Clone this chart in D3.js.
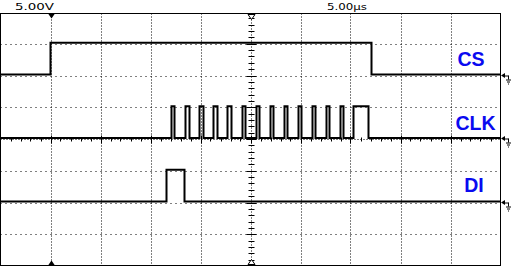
<!DOCTYPE html>
<html>
<head>
<meta charset="utf-8">
<script src="https://cdn.jsdelivr.net/npm/d3@7"></script>
<style>
  body { margin: 0; background: #fff; }
  svg { display: block; }
  .grid { stroke: #000; stroke-width: 1; }
  .trace { fill: none; stroke: #000; stroke-width: 2; }
  .label { font-family: "Liberation Sans", Arial, sans-serif; font-weight: bold; font-size: 19.5px; fill: #0a0af0; }
  .scale { font-family: "DejaVu Sans", sans-serif; font-size: 9px; fill: #000; }
</style>
</head>
<body>
<script>
// scope settings
var voltsPerDiv = 5, usPerDiv = 5
var scaleText = ["5.00V", "5.00\u00b5s"]

// channel names and ground offsets (divisions from centre)
var channels = ["CS", "CLK", "DI"]
var offsets = [2, 0, -2]
var highLevel = [5.0, 5.0, 5.0]   // volts
var lowLevel = [0, 0, 0]

// edge times in microseconds (rise, fall)
var csRise = [5.0]
var csFall = [37.1]
var clkRise = [17.1, 18.5, 19.9, 21.3, 22.7, 24.2, 25.6, 27.0, 28.4, 29.8, 31.2, 32.6, 34.0, 35.3]
var clkFall = [17.4, 18.9, 20.3, 21.7, 23.1, 24.5, 25.9, 27.3, 28.7, 30.1, 31.5, 32.9, 34.3, 36.8]
var diRise = [16.6]
var diFall = [18.4]

var rises = [csRise, clkRise, diRise]
var falls = [csFall, clkFall, diFall]

var width = 515, height = 273

var svg = d3.select("body").append("svg")
    .attr("width", width).attr("height", height)

var x = d3.scaleLinear().domain([0, 10 * usPerDiv]).range([0.5, 500.5])
var y = d3.scaleLinear().domain([-4, 4]).range([266, 12])

var top0 = Math.round(y(4)) + 1.5, bot0 = Math.round(y(-4)) - 0.5

// dotted grid
var vDivs = d3.range(1, 10).filter(function(d) { return d != 5 })
var hDivs = [-3, -2, -1, 1, 2, 3]

svg.selectAll(".vgrid").data(vDivs).enter().append("line")
    .attr("class", "grid")
    .attr("x1", function(d) { return Math.round(x(d * usPerDiv)) + 0.5 })
    .attr("x2", function(d) { return Math.round(x(d * usPerDiv)) + 0.5 })
    .attr("y1", top0).attr("y2", bot0)
    .attr("stroke-dasharray", "1,2")

svg.selectAll(".hgrid").data(hDivs).enter().append("line")
    .attr("class", "grid")
    .attr("y1", function(d) { return Math.round(y(d)) + 0.5 })
    .attr("y2", function(d) { return Math.round(y(d)) + 0.5 })
    .attr("x1", x(0)).attr("x2", x(50))
    .attr("stroke-dasharray", "1,4")

// centre axes with minor ticks
var cx = Math.round(x(5 * usPerDiv)) + 0.5, cy = Math.round(y(0)) + 0.5
svg.append("line").attr("class", "grid")
    .attr("x1", cx).attr("x2", cx).attr("y1", top0).attr("y2", bot0)
    .attr("stroke-dasharray", "1,2")
svg.append("line").attr("class", "grid")
    .attr("x1", x(0)).attr("x2", x(50)).attr("y1", cy).attr("y2", cy)
    .attr("stroke-dasharray", "1,2")

var vTicks = d3.range(-40, 41).map(function(i) { return i / 10 }).filter(function(d) { return Math.abs(d) < 4 && Math.round(d * 10) % 2 == 0 })
svg.selectAll(".vtick").data(vTicks).enter().append("line")
    .attr("class", "grid")
    .attr("x1", function(d) { return cx - (Math.round(d * 10) % 10 == 0 ? 5 : 3) })
    .attr("x2", function(d) { return cx + (Math.round(d * 10) % 10 == 0 ? 5 : 3) })
    .attr("y1", function(d) { return Math.round(y(d)) + 0.5 })
    .attr("y2", function(d) { return Math.round(y(d)) + 0.5 })

var hTicks = d3.range(1, 50)
svg.selectAll(".htick").data(hTicks).enter().append("line")
    .attr("class", "grid")
    .attr("x1", function(d) { return Math.round(x(d)) + 0.5 })
    .attr("x2", function(d) { return Math.round(x(d)) + 0.5 })
    .attr("y1", function(d) { return cy - (d % 5 == 0 ? 4 : 2) })
    .attr("y2", function(d) { return cy + (d % 5 == 0 ? 4 : 2) })

// frame
svg.append("rect")
    .attr("x", 0.5).attr("y", top0)
    .attr("width", x(50) - 0.5).attr("height", bot0 - top0)
    .attr("fill", "none").attr("stroke", "#000")

// traces
function tracePoints(i) {
  var edges = []
  rises[i].forEach(function(t) { edges.push({t: t, v: highLevel[i]}) })
  falls[i].forEach(function(t) { edges.push({t: t, v: lowLevel[i]}) })
  edges.sort(function(a, b) { return a.t - b.t })
  var pts = [[0, lowLevel[i]]], cur = lowLevel[i]
  edges.forEach(function(e) {
    pts.push([e.t, cur])
    pts.push([e.t, e.v])
    cur = e.v
  })
  pts.push([10 * usPerDiv, cur])
  return pts
}

var line = d3.line()

channels.forEach(function(name, i) {
  var pts = tracePoints(i).map(function(p) {
    return [x(p[0]), y(offsets[i] + p[1] / voltsPerDiv) - 1]
  })
  svg.append("path").attr("class", "trace").attr("d", line(pts))
})

// channel labels
var labelPos = [[471, 66], [475.5, 130], [474, 191.5]]
svg.selectAll(".label").data(channels).enter().append("text")
    .attr("class", "label")
    .attr("text-anchor", "middle")
    .attr("x", function(d, i) { return labelPos[i][0] })
    .attr("y", function(d, i) { return labelPos[i][1] })
    .text(function(d) { return d })

// ground markers on right edge
channels.forEach(function(name, i) {
  var gy = Math.round(y(offsets[i])) - 0.5
  var g = svg.append("g").attr("transform", "translate(501," + gy + ")")
  g.append("path").attr("d", "M0,0L4,-2.5L4,2.5Z").attr("fill", "#000")
  g.append("line").attr("x1", 3).attr("x2", 7.5).attr("y1", 0.5).attr("y2", 0.5).attr("stroke", "#000")
  g.append("line").attr("x1", 7.5).attr("x2", 7.5).attr("y1", 0).attr("y2", 4).attr("stroke", "#000")
  g.append("line").attr("x1", 5).attr("x2", 10).attr("y1", 4.5).attr("y2", 4.5).attr("stroke", "#000")
  g.append("line").attr("x1", 6).attr("x2", 9).attr("y1", 6.5).attr("y2", 6.5).attr("stroke", "#000")
  g.append("line").attr("x1", 7).attr("x2", 8).attr("y1", 8.5).attr("y2", 8.5).attr("stroke", "#000")
})

// trigger markers
var tx = Math.round(x(csRise[0])) + 0.5
svg.append("path").attr("d", "M" + (tx - 3.5) + "," + top0 + "L" + (tx + 3.5) + "," + top0 + "L" + tx + "," + (top0 + 5) + "Z").attr("fill", "#000")
svg.append("path").attr("d", "M" + (tx - 3.5) + "," + bot0 + "L" + (tx + 3.5) + "," + bot0 + "L" + tx + "," + (bot0 - 5) + "Z").attr("fill", "#000")
svg.append("path").attr("d", "M" + (cx - 3.5) + "," + (top0 + 1) + "L" + (cx + 3.5) + "," + (top0 + 1) + "L" + cx + "," + (top0 + 6) + "Z").attr("fill", "#fff").attr("stroke", "#000")
svg.append("path").attr("d", "M" + (cx - 3.5) + "," + (bot0 - 1) + "L" + (cx + 3.5) + "," + (bot0 - 1) + "L" + cx + "," + (bot0 - 6) + "Z").attr("fill", "#fff").attr("stroke", "#000")

// scale readouts
svg.append("text").attr("class", "scale").attr("x", 15).attr("y", 9.5)
    .attr("textLength", 39).attr("lengthAdjust", "spacingAndGlyphs").text(scaleText[0])
svg.append("text").attr("class", "scale").attr("x", 327).attr("y", 9.5)
    .attr("textLength", 40).attr("lengthAdjust", "spacingAndGlyphs").text(scaleText[1])
</script>
</body>
</html>
